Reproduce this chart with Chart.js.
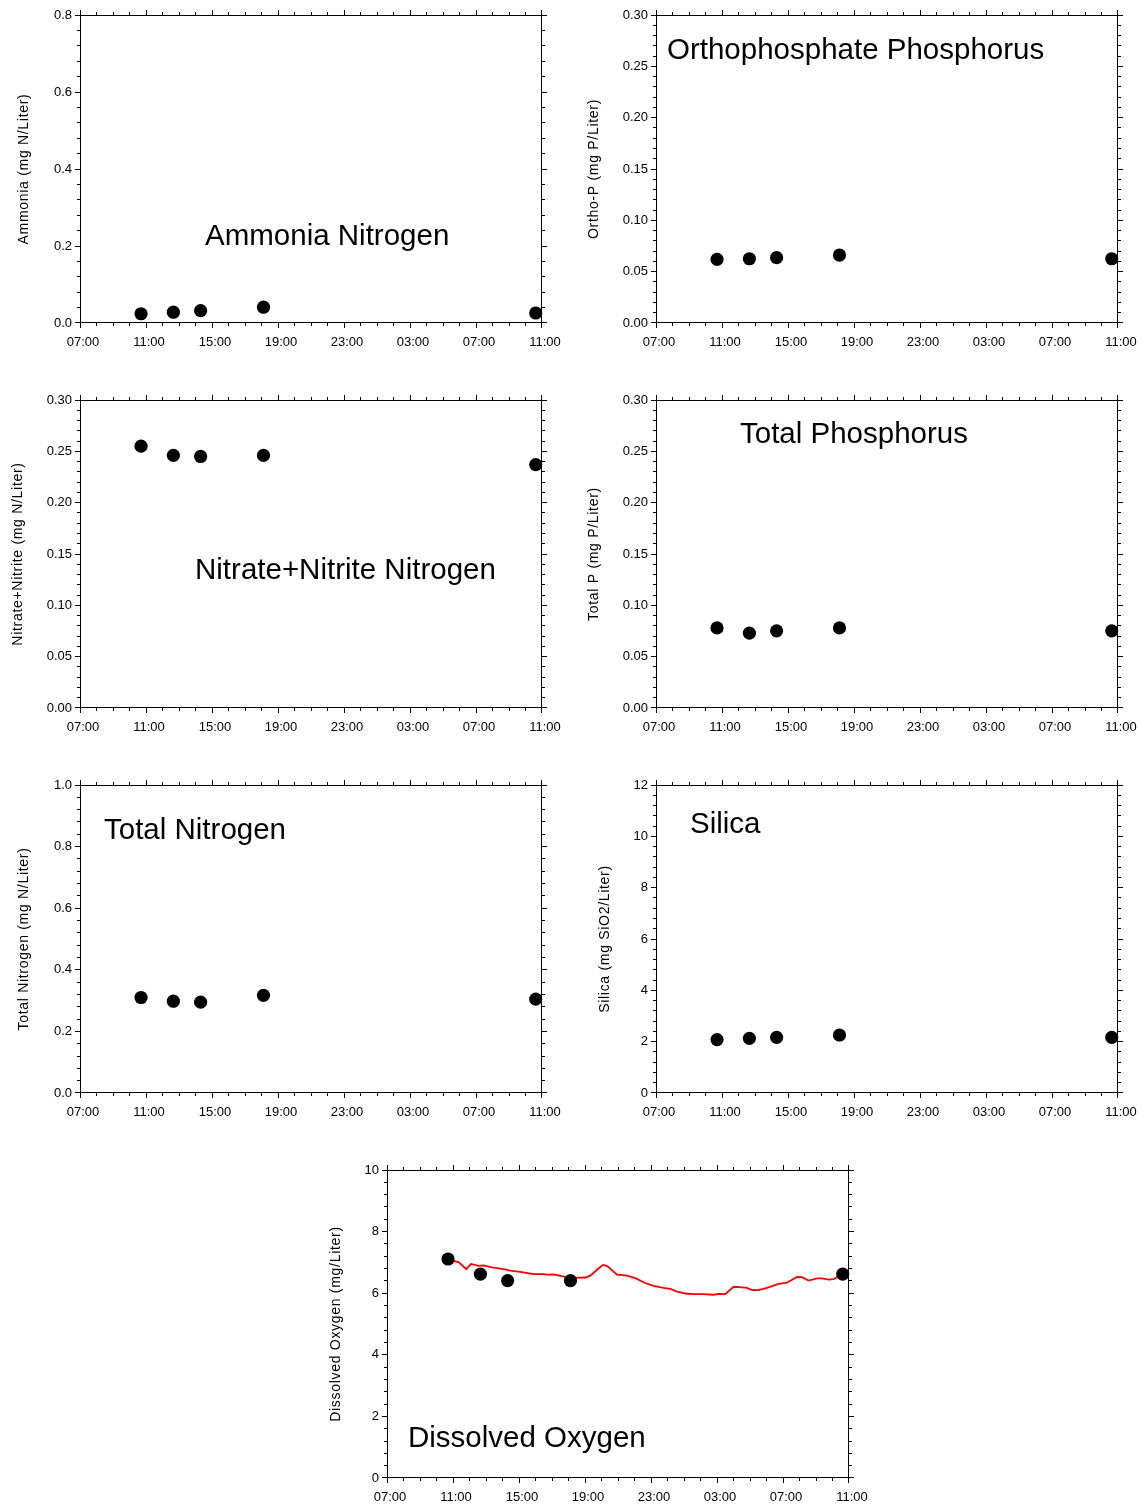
<!DOCTYPE html>
<html>
<head>
<meta charset="utf-8">
<title>Water quality, 24-hour survey</title>
<script src="https://cdn.jsdelivr.net/npm/chart.js@4.4.1/dist/chart.umd.min.js"></script>
<style>
  html, body { margin: 0; padding: 0; background: #fff; overflow: hidden; }
  #page { position: relative; width: 1142px; height: 1506px; }
  #page canvas { position: absolute; }
</style>
</head>
<body>
<div id="page"></div>
<script>
// ---- data ----
const timeLabels = ['07:00', '11:00', '15:00', '19:00', '23:00', '03:00', '07:00', '11:00'];

// grab-sample times, hours after 07:00 on the first day
const sampleHours = [3.7, 5.66, 7.31, 11.12, 27.62];

const ammonia        = [0.024, 0.028, 0.032, 0.041, 0.026];
const orthoP         = [0.062, 0.0626, 0.0636, 0.0662, 0.0626];
const nitrateNitrite = [0.255, 0.246, 0.245, 0.246, 0.237];
const totalP         = [0.078, 0.073, 0.0752, 0.078, 0.0752];
const totalN         = [0.31, 0.298, 0.295, 0.317, 0.305];
const silica         = [2.08, 2.13, 2.17, 2.26, 2.17];
const dissolvedO2    = [7.11, 6.62, 6.41, 6.41, 6.62];

// continuous sonde DO record
const sondeHours = [3.73, 4.34, 4.81, 5.09, 5.55, 5.85, 6.36, 7.07, 7.47, 8.08, 8.88, 9.49, 9.70,
  10.10, 10.70, 11.31, 12.02, 12.32, 12.73, 13.09, 13.33, 13.94, 14.55, 15.05, 15.65, 16.16,
  16.76, 17.17, 17.58, 18.08, 18.58, 19.19, 19.79, 20.10, 20.50, 21.01, 21.52, 21.82, 22.12,
  22.52, 23.03, 23.73, 24.24, 24.85, 25.15, 25.55, 26.06, 26.36, 26.76, 27.07, 27.37, 27.67];
const sondeDO = [7.08, 7.01, 6.78, 6.95, 6.89, 6.90, 6.84, 6.78, 6.73, 6.69, 6.62, 6.62, 6.60,
  6.61, 6.54, 6.50, 6.51, 6.57, 6.76, 6.92, 6.89, 6.60, 6.57, 6.49, 6.33, 6.24,
  6.17, 6.14, 6.05, 5.99, 5.97, 5.97, 5.95, 5.98, 5.97, 6.21, 6.19, 6.17, 6.10,
  6.10, 6.17, 6.30, 6.34, 6.53, 6.52, 6.41, 6.48, 6.48, 6.44, 6.46, 6.54, 6.63];

// ---- layout ----
const FONT = '"Liberation Sans", Arial, Helvetica, sans-serif';
const AXIS_W = 80, PAD_TOP = 15, AREA_W = 462, AREA_H = 308, CANVAS_W = 565, CANVAS_H = 360;

const panels = [
  { values: ammonia, left: 80, top: 15, yMax: 0.8, yStep: 0.2, digits: 1, titleGap: 56,
    yTitle: 'Ammonia (mg N/Liter)', label: 'Ammonia Nitrogen', labelX: 205, labelY: 245 },
  { values: orthoP, left: 656, top: 15, yMax: 0.3, yStep: 0.05, digits: 2, titleGap: 62,
    yTitle: 'Ortho-P (mg P/Liter)', label: 'Orthophosphate Phosphorus', labelX: 667, labelY: 58.5 },
  { values: nitrateNitrite, left: 80, top: 400, yMax: 0.3, yStep: 0.05, digits: 2, titleGap: 62,
    yTitle: 'Nitrate+Nitrite (mg N/Liter)', label: 'Nitrate+Nitrite Nitrogen', labelX: 195, labelY: 579 },
  { values: totalP, left: 656, top: 400, yMax: 0.3, yStep: 0.05, digits: 2, titleGap: 62,
    yTitle: 'Total P (mg P/Liter)', label: 'Total Phosphorus', labelX: 740, labelY: 443 },
  { values: totalN, left: 80, top: 785, yMax: 1.0, yStep: 0.2, digits: 1, titleGap: 56,
    yTitle: 'Total Nitrogen (mg N/Liter)', label: 'Total Nitrogen', labelX: 104, labelY: 839 },
  { values: silica, left: 656, top: 785, yMax: 12, yStep: 2, digits: 0, titleGap: 51,
    yTitle: 'Silica (mg SiO2/Liter)', label: 'Silica', labelX: 690, labelY: 833 },
  { values: dissolvedO2, left: 387, top: 1170, yMax: 10, yStep: 2, digits: 0, titleGap: 51,
    yTitle: 'Dissolved Oxygen (mg/Liter)', label: 'Dissolved Oxygen', labelX: 408, labelY: 1447,
    line: { hours: sondeHours, values: sondeDO } }
];

// box, outward ticks on all four sides (major + minor), axis title and panel caption
const framePlugin = {
  id: 'frame',
  beforeDatasetsDraw(chart, args, opts) {
    const { ctx, chartArea: a, scales: { x, y } } = chart;
    const snapX = v => Math.min(Math.floor(v), a.right - 1) + 0.5;
    const snapY = v => Math.min(Math.floor(v), a.bottom - 1) + 0.5;
    ctx.save();
    ctx.strokeStyle = '#000';
    ctx.lineWidth = 1;
    ctx.strokeRect(a.left + 0.5, a.top + 0.5, a.width - 1, a.height - 1);

    ctx.beginPath();
    for (let h = x.min; h <= x.max + 1e-6; h += 1) {
      const px = snapX(x.getPixelForValue(h));
      const len = Math.round(h) % 4 === 0 ? 5 : 3;
      ctx.moveTo(px, a.bottom); ctx.lineTo(px, a.bottom + len);
      ctx.moveTo(px, a.top); ctx.lineTo(px, a.top - len);
    }
    const minor = opts.yStep / 5;
    const n = Math.round((y.max - y.min) / minor);
    for (let i = 0; i <= n; i++) {
      const py = snapY(y.getPixelForValue(y.min + i * minor));
      const len = i % 5 === 0 ? 5 : 3;
      ctx.moveTo(a.left, py); ctx.lineTo(a.left - len, py);
      ctx.moveTo(a.right, py); ctx.lineTo(a.right + len, py);
    }
    ctx.stroke();

    ctx.fillStyle = '#000';
    ctx.save();
    ctx.translate(a.left - opts.titleGap, (a.top + a.bottom) / 2);
    ctx.rotate(-Math.PI / 2);
    ctx.font = '14px ' + FONT;
    ctx.letterSpacing = '0.7px';
    ctx.textAlign = 'center';
    ctx.textBaseline = 'middle';
    ctx.fillText(opts.yTitle, 0, 0);
    ctx.restore();

    ctx.font = '29.5px ' + FONT;
    ctx.textAlign = 'left';
    ctx.textBaseline = 'alphabetic';
    ctx.fillText(opts.label, opts.labelX, opts.labelY);
    ctx.restore();
  }
};

Chart.defaults.color = '#000';
Chart.defaults.font.family = FONT;
Chart.defaults.font.size = 13;

const page = document.getElementById('page');

panels.forEach(p => {
  const canvasLeft = p.left - AXIS_W;
  const canvasTop = p.top - PAD_TOP;
  const canvas = document.createElement('canvas');
  canvas.width = CANVAS_W;
  canvas.height = CANVAS_H;
  canvas.style.left = canvasLeft + 'px';
  canvas.style.top = canvasTop + 'px';
  page.appendChild(canvas);

  const datasets = [{
    type: 'scatter',
    data: sampleHours.map((h, i) => ({ x: h, y: p.values[i] })),
    pointRadius: 6.6,
    pointHoverRadius: 6.6,
    pointBackgroundColor: '#000',
    pointBorderWidth: 0,
    showLine: false,
    clip: false,
    order: 0
  }];
  if (p.line) {
    datasets.push({
      type: 'line',
      data: p.line.hours.map((h, i) => ({ x: h, y: p.line.values[i] })),
      borderColor: '#ff0000',
      borderWidth: 1.8,
      pointRadius: 0,
      tension: 0,
      fill: false,
      order: 1
    });
  }

  new Chart(canvas, {
    data: { datasets },
    plugins: [framePlugin],
    options: {
      responsive: false,
      animation: false,
      devicePixelRatio: 1,
      events: [],
      layout: { padding: { left: 0, top: PAD_TOP, right: CANVAS_W - AXIS_W - AREA_W, bottom: 0 } },
      plugins: {
        legend: { display: false },
        tooltip: { enabled: false },
        frame: {
          yStep: p.yStep,
          titleGap: p.titleGap,
          yTitle: p.yTitle,
          label: p.label,
          labelX: p.labelX - canvasLeft,
          labelY: p.labelY - canvasTop
        }
      },
      scales: {
        x: {
          type: 'linear',
          min: 0,
          max: 28,
          // tick marks are drawn by the frame plugin; tickLength only spaces the labels
          grid: { display: false, drawTicks: true, tickLength: 12 },
          border: { display: false },
          ticks: {
            stepSize: 4,
            padding: 0,
            labelOffset: 3,
            maxRotation: 0,
            autoSkip: false,
            callback: v => timeLabels[Math.round(v / 4)]
          },
          afterFit: s => { s.height = CANVAS_H - PAD_TOP - AREA_H; }
        },
        y: {
          type: 'linear',
          min: 0,
          max: p.yMax,
          grid: { display: false, drawTicks: true, tickLength: 5 },
          border: { display: false },
          ticks: {
            stepSize: p.yStep,
            padding: 3,
            callback: v => v.toFixed(p.digits)
          },
          afterFit: s => { s.width = AXIS_W; }
        }
      }
    }
  });
});
</script>
</body>
</html>
